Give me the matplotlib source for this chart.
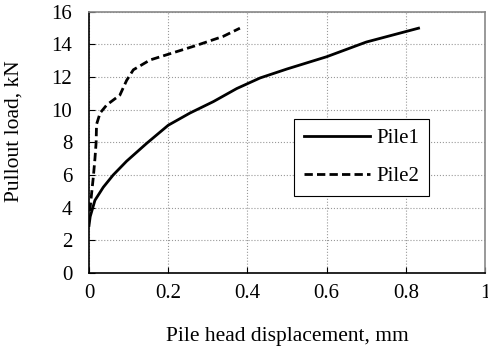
import matplotlib.pyplot as plt

plt.rcParams['font.family'] = ['Liberation Serif', 'DejaVu Serif']

pile1_x = [0.0, 0.003, 0.015, 0.036, 0.061, 0.095, 0.146, 0.2, 0.255, 0.314, 0.373, 0.432, 0.5, 0.6, 0.7, 0.832]
pile1_y = [2.9, 3.45, 4.45, 5.25, 6.0, 6.85, 7.95, 9.05, 9.8, 10.5, 11.3, 11.95, 12.5, 13.25, 14.15, 15.0]

pile2_x = [0.002, 0.011, 0.015, 0.018, 0.019, 0.028, 0.045, 0.078, 0.095, 0.112, 0.154, 0.2, 0.272, 0.339, 0.381]
pile2_y = [3.8, 5.9, 7.0, 8.0, 9.1, 9.8, 10.3, 10.9, 11.8, 12.45, 13.05, 13.4, 13.95, 14.5, 15.0]

fig = plt.figure(figsize=(4.89, 3.49), dpi=100)
ax = fig.add_axes([0.182, 0.218, 0.810, 0.748])

ax.plot(pile1_x, pile1_y, color='black', lw=2, label='Pile1')
ax.plot(pile2_x, pile2_y, color='black', lw=2, ls=(0, (3, 1.5)), label='Pile2')

ax.set_xlim(0, 1)
ax.set_ylim(0, 16)
ax.set_xticks([0, 0.2, 0.4, 0.6, 0.8, 1])
ax.set_xticklabels(['0', '0.2', '0.4', '0.6', '0.8', '1'])
ax.set_yticks(range(0, 17, 2))
ax.tick_params(direction='in', labelsize=15, length=4)
ax.tick_params(axis='x', pad=8)
ax.tick_params(axis='y', pad=12)
ax.grid(True, color='#999999', ls=':', lw=0.8)
for s in ax.spines.values():
    s.set_linewidth(1.2)
ax.spines['top'].set_color('#888888')
ax.spines['right'].set_color('#888888')

ax.set_xlabel('Pile head displacement, mm', fontsize=15.5, labelpad=17)
ax.set_ylabel('Pullout load, kN', fontsize=15.5)
ax.yaxis.set_label_coords(-0.164, 0.544)

leg = ax.legend(loc='upper left', bbox_to_anchor=(0.518, 0.59), fontsize=15,
                fancybox=False, framealpha=1, edgecolor='black', handlelength=3.2,
                handletextpad=0.3, labelspacing=0.9, borderpad=0.45, borderaxespad=0)
leg.get_frame().set_linewidth(0.8)

plt.savefig('out.png', dpi=100)
